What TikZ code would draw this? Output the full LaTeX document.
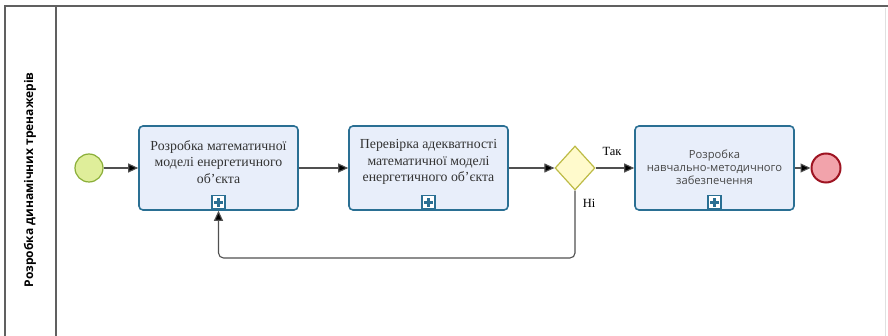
\documentclass[tikz,border=0pt]{standalone}
\usepackage{fontspec}
\setmainfont{Liberation Serif}
\newfontfamily\taskSans{Open Sans}
\newfontfamily\laneSans{Open Sans}
\usetikzlibrary{arrows.meta,shapes.geometric,calc}
\definecolor{taskfill}{HTML}{E8EEFA}
\definecolor{taskline}{HTML}{2A6F93}
\definecolor{startfill}{HTML}{DFEE9A}
\definecolor{startline}{HTML}{8AAE38}
\definecolor{gatefill}{HTML}{FFFACC}
\definecolor{gateline}{HTML}{BDBB45}
\definecolor{endfill}{HTML}{F2A3AB}
\definecolor{endline}{HTML}{9E1422}
\definecolor{flowline}{HTML}{505050}
\definecolor{laneline}{HTML}{606060}
\definecolor{tasktextcol}{HTML}{333333}
\newcommand{\apos}{\char"27\relax}
\tikzset{
  taskbox/.style={draw=taskline, fill=taskfill, line width=1.6pt, rounded corners=4pt,
    minimum width=159pt, minimum height=84pt, inner sep=0pt},
  tasktext/.style={align=center, inner sep=0pt, text=tasktextcol, font=\fontsize{13.8}{16.5}\selectfont},
  sanstext/.style={align=center, inner sep=0pt, text=tasktextcol!90, font=\taskSans\fontsize{11.2}{13}\selectfont},
  startev/.style={circle, draw=startline, fill=startfill, line width=1.2pt, minimum size=28pt, inner sep=0pt},
  endev/.style={circle, draw=endline, fill=endfill, line width=2pt, minimum size=29pt, inner sep=0pt},
  gateway/.style={diamond, draw=gateline, fill=gatefill, line width=1.2pt, minimum width=40pt, minimum height=44pt, inner sep=0pt},
  flow/.style={draw=flowline, line width=1.1pt, rounded corners=5pt, -{Triangle[length=10pt,width=9pt,fill=black]}},
  plusbox/.style={draw=taskline, fill=white, line width=1.2pt, minimum size=13pt, inner sep=0pt},
  flowlabel/.style={font=\fontsize{12.5}{14}\selectfont, inner sep=1pt}
}
\begin{document}
\begin{tikzpicture}[x=1pt, y=-1pt]
\useasboundingbox (0,0) rectangle (888,336);
% pool and lane frame
\draw[laneline, line width=1.3pt] (5,336) -- (5,6) -- (888,6);
\draw[laneline, line width=1.1pt] (56,6) -- (56,336);
\draw[black!12, line width=0.6pt] (885,8) -- (885,336);
\node[rotate=90, font=\laneSans\bfseries\fontsize{12}{14}\selectfont] (lane) at (30,180) {Розробка динамічних тренажерів};

% events, tasks, gateway
\node[startev] (start) at (89,168) {};
\node[taskbox] (t1) at (218.5,168) {};
\node[tasktext] (t1text) at ($(t1.center)+(0,-6)$) {Розробка математичної\\моделі енергетичного\\об\apos єкта};
\node[taskbox] (t2) at (428.5,168) {};
\node[tasktext] (t2text) at ($(t2.center)+(0,-6)$) {Перевірка адекватності\\математичної моделі\\енергетичного об\apos єкта};
\node[gateway] (gw) at (575,168) {};
\node[taskbox] (t3) at (714.5,168) {};
\node[sanstext] (t3text) at ($(t3.center)+(0,-1)$) {Розробка\\навчально-методичного\\забезпечення};
\node[endev] (end) at (826,168) {};

% collapsed sub-process markers
\foreach \t in {t1,t2,t3}{
  \node[plusbox] (\t plus) at ($(\t.south)+(0,-8.5)$) {};
  \fill[taskline] ($(\t plus.center)+(-4.5,-1.4)$) rectangle ($(\t plus.center)+(4.5,1.4)$);
  \fill[taskline] ($(\t plus.center)+(-1.4,-4.5)$) rectangle ($(\t plus.center)+(1.4,4.5)$);
}

% sequence flows
\draw[flow] (start) -- (t1);
\draw[flow] (t1) -- (t2);
\draw[flow] (t2) -- (gw);
\draw[flow] (gw) -- (t3);
\draw[flow] (t3) -- (end);
\draw[flow] (gw.south) -- (575,258) -- (218.5,258) -- (t1.south);

% gateway labels
\node[flowlabel] (yes) at (612,151) {Так};
\node[flowlabel] (no) at (589,203) {Ні};
\end{tikzpicture}
\end{document}
